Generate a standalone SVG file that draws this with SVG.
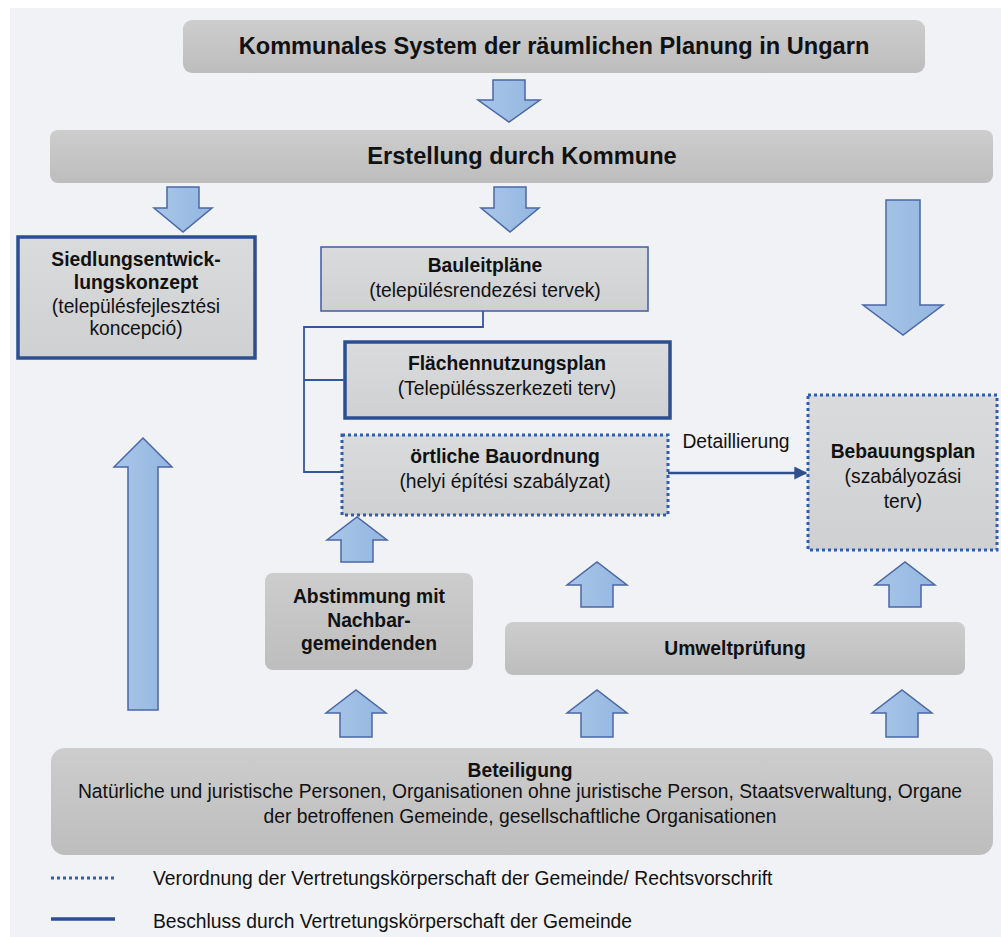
<svg xmlns="http://www.w3.org/2000/svg" width="1001" height="937" viewBox="0 0 1001 937">
<defs>
<linearGradient id="gDark" x1="0" y1="0" x2="0" y2="1">
<stop offset="0" stop-color="#cdcdcd"/><stop offset="1" stop-color="#bdbdbe"/>
</linearGradient>
<linearGradient id="gLight" x1="0" y1="0" x2="0" y2="1">
<stop offset="0" stop-color="#dadbdd"/><stop offset="1" stop-color="#cfd0d2"/>
</linearGradient>
<linearGradient id="gArrow" x1="0" y1="0" x2="1" y2="0">
<stop offset="0" stop-color="#a9c6e8"/><stop offset="1" stop-color="#93b6e0"/>
</linearGradient>
<marker id="ah" viewBox="0 0 10 10" refX="9" refY="5" markerWidth="5" markerHeight="5" orient="auto" markerUnits="strokeWidth">
<path d="M0,0 L10,5 L0,10 Z" fill="#2f4f8f"/>
</marker>
<style>
.t{font-family:"Liberation Sans",Arial,sans-serif;fill:#111;text-anchor:middle}
.b{font-weight:bold}
.s19{font-size:19.3px}
.s23{font-size:23.6px}
.dark{fill:url(#gDark)}
.thick{fill:url(#gLight);stroke:#2c4f92;stroke-width:3.5}
.thin{fill:url(#gLight);stroke:#4a64a6;stroke-width:1.6}
.dot{fill:url(#gLight);stroke:#2f5db0;stroke-width:3;stroke-dasharray:3 3}
.arr{fill:url(#gArrow);stroke:#4b67a6;stroke-width:1.5}
.con{fill:none;stroke:#34579a;stroke-width:1.8}
.det{fill:none;stroke:#2f4f8f;stroke-width:2.6}
</style>
</defs>
<rect x="10" y="8" width="991" height="929" fill="#f0f2f5"/>

<g id="n-top">
<rect class="dark" x="183" y="20" width="742" height="53" rx="9"/>
<text class="t b s23" x="554" y="54">Kommunales System der räumlichen Planung in Ungarn</text>
</g>
<g id="n-erstellung">
<rect class="dark" x="50" y="130" width="943" height="53" rx="8"/>
<text class="t b s23" x="522" y="164">Erstellung durch Kommune</text>
</g>
<g id="n-siedlung">
<rect class="thick" x="18" y="237" width="237" height="121"/>
<text class="t b s19" x="136" y="266">Siedlungsentwick-</text>
<text class="t b s19" x="136" y="289">lungskonzept</text>
<text class="t s19" x="136" y="313">(településfejlesztési</text>
<text class="t s19" x="136" y="335">koncepció)</text>
</g>
<g id="n-bauleit">
<rect class="thin" x="321" y="247" width="327" height="64"/>
<text class="t b s19" x="485" y="272">Bauleitpläne</text>
<text class="t s19" x="485" y="297">(településrendezési tervek)</text>
</g>
<g id="n-flaechen">
<rect class="thick" x="345" y="342" width="325" height="76"/>
<text class="t b s19" x="507" y="370">Flächennutzungsplan</text>
<text class="t s19" x="507" y="395">(Településszerkezeti terv)</text>
</g>
<g id="n-oertlich">
<rect class="dot" x="342" y="435" width="326" height="80"/>
<text class="t b s19" x="505" y="463">örtliche Bauordnung</text>
<text class="t s19" x="505" y="488">(helyi építési szabályzat)</text>
</g>
<g id="n-bebauung">
<rect class="dot" x="808" y="395" width="189" height="155"/>
<text class="t b s19" x="903" y="458">Bebauungsplan</text>
<text class="t s19" x="903" y="483">(szabályozási</text>
<text class="t s19" x="903" y="508">terv)</text>
</g>
<g id="n-abstimmung">
<rect class="dark" x="265" y="573" width="208" height="97" rx="8"/>
<text class="t b s19" x="369" y="603">Abstimmung mit</text>
<text class="t b s19" x="369" y="627">Nachbar-</text>
<text class="t b s19" x="369" y="650">gemeindenden</text>
</g>
<g id="n-umwelt">
<rect class="dark" x="505" y="622" width="460" height="53" rx="8"/>
<text class="t b s19" x="735" y="655">Umweltprüfung</text>
</g>
<g id="n-beteiligung">
<rect class="dark" x="51" y="748" width="942" height="107" rx="14"/>
<text class="t b s19" x="520" y="777">Beteiligung</text>
<text class="t s19" x="520" y="798">Natürliche und juristische Personen, Organisationen ohne juristische Person, Staatsverwaltung, Organe</text>
<text class="t s19" x="520" y="823">der betroffenen Gemeinde, gesellschaftliche Organisationen</text>
</g>

<g id="connectors">
<path class="arr" d="M493,80 H525 V100 H540 L509,122 L478,100 H493 Z"/>
<path class="arr" d="M167,187 H199 V208 H212 L183,232 L154,208 H167 Z"/>
<path class="arr" d="M494,187 H526 V208 H539 L510,232 L481,208 H494 Z"/>
<path class="arr" d="M886,200 H920 V305 H943 L903,335 L863,305 H886 Z"/>
<path class="arr" d="M128,710 V467 H114 L143,438 L172,467 H158 V710 Z"/>
<path class="arr" d="M341,562 V540 H327 L357,517 L387,540 H373 V562 Z"/>
<path class="arr" d="M581,607 V585 H567 L597,562 L627,585 H613 V607 Z"/>
<path class="arr" d="M889,607 V585 H875 L905,562 L935,585 H921 V607 Z"/>
<path class="arr" d="M340,737 V713 H326 L356,690 L386,713 H372 V737 Z"/>
<path class="arr" d="M581,737 V713 H567 L597,690 L627,713 H613 V737 Z"/>
<path class="arr" d="M886,737 V713 H872 L902,690 L932,713 H918 V737 Z"/>
<path class="con" d="M483,311 V327 H304 V472 H342"/>
<path class="con" d="M304,380 H345"/>
<path class="det" d="M668,473 H806" marker-end="url(#ah)"/>
<text class="t s19" x="736" y="448">Detaillierung</text>
</g>

<g id="legend">
<line x1="51" y1="878" x2="115" y2="878" stroke="#2f5db0" stroke-width="3" stroke-dasharray="3 3"/>
<text class="t s19" x="153" y="885" style="text-anchor:start">Verordnung der Vertretungskörperschaft der Gemeinde/ Rechtsvorschrift</text>
<line x1="51" y1="919" x2="115" y2="919" stroke="#2c4f92" stroke-width="3.5"/>
<text class="t s19" x="153" y="928" style="text-anchor:start">Beschluss durch Vertretungskörperschaft der Gemeinde</text>
</g>
</svg>
